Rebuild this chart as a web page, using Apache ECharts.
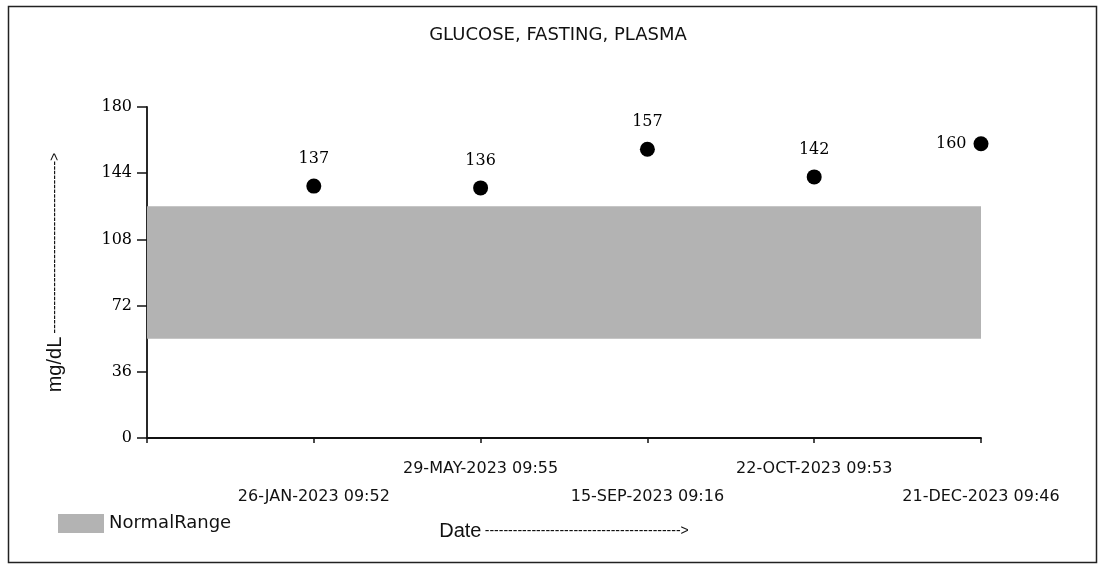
<!DOCTYPE html>
<html>
<head>
<meta charset="utf-8">
<script src="https://cdn.jsdelivr.net/npm/echarts@6/dist/echarts.min.js"></script>
<style>
html,body{margin:0;padding:0;background:#fff;}
#chart{width:1100px;height:569px;}
</style>
</head>
<body>
<div id="chart"></div>
<script>
// ---- data ----
var chartTitle = 'GLUCOSE, FASTING, PLASMA';
var dates = ['26-JAN-2023 09:52', '29-MAY-2023 09:55', '15-SEP-2023 09:16', '22-OCT-2023 09:53', '21-DEC-2023 09:46'];
var values = [137, 136, 157, 142, 160];
var normalRange = [54, 126];
var yTicks = [0, 36, 72, 108, 144, 180];
var legendName = 'NormalRange';
var xName = 'Date';
var yName = 'mg/dL';

// ---- build ----
var categories = [''].concat(dates);
var pointData = values.map(function (v, i) {
  var d = { value: [dates[i], v] };
  if (i === values.length - 1) {
    d.label = { position: 'left', distance: 7 };
  }
  return d;
});
var dashes = function (n) { return new Array(n + 1).join('-'); };

var chart = echarts.init(document.getElementById('chart'), null, { renderer: 'canvas' });
chart.setOption({
  animation: false,
  backgroundColor: '#ffffff',
  graphic: [
    { type: 'rect', shape: { x: 8.5, y: 6.5, width: 1088, height: 556 },
      style: { fill: 'none', stroke: '#222', lineWidth: 1.5 }, z: -1 },
    { type: 'text', x: 558, y: 35,
      style: { text: chartTitle, fill: '#111', font: '18px "DejaVu Sans"', align: 'center', verticalAlign: 'middle' } }
  ],
  legend: {
    data: [{ name: legendName, icon: 'rect' }],
    left: 53, top: 509,
    itemWidth: 46, itemHeight: 19, itemGap: 11,
    textStyle: { fontFamily: 'DejaVu Sans', fontSize: 18, color: '#111' }
  },
  grid: { left: 147, right: 119, top: 107, bottom: 131, containLabel: false },
  xAxis: {
    type: 'category',
    data: categories,
    boundaryGap: false,
    name: '{a|' + xName + '} {b|' + dashes(42) + '>}',
    nameLocation: 'middle',
    nameGap: 83,
    nameTextStyle: {
      rich: {
        a: { fontFamily: 'Liberation Sans', fontSize: 20, color: '#111' },
        b: { fontFamily: 'Liberation Sans', fontSize: 14, color: '#111' }
      }
    },
    axisLine: { lineStyle: { color: '#111', width: 1.8 } },
    axisTick: { show: true, length: 5, lineStyle: { color: '#111', width: 1.5 }, interval: 0 },
    axisLabel: {
      interval: 0,
      margin: 17,
      fontFamily: 'DejaVu Sans',
      fontSize: 16,
      color: '#111',
      lineHeight: 28,
      formatter: function (val, idx) {
        if (!val) return '';
        return (idx % 2 === 1) ? '\n' + val : val;
      }
    },
    splitLine: { show: false }
  },
  yAxis: {
    type: 'value',
    min: yTicks[0],
    max: yTicks[yTicks.length - 1],
    interval: yTicks[1] - yTicks[0],
    name: '{a|' + yName + '} {b|' + dashes(37) + '>}',
    nameLocation: 'middle',
    nameRotate: 90,
    nameGap: 82,
    nameTextStyle: {
      rich: {
        a: { fontFamily: 'Liberation Sans', fontSize: 20, color: '#111' },
        b: { fontFamily: 'Liberation Sans', fontSize: 14, color: '#111' }
      }
    },
    axisLine: { show: true, lineStyle: { color: '#111', width: 1.8 } },
    axisTick: { show: true, length: 10, lineStyle: { color: '#111', width: 1.5 } },
    axisLabel: { margin: 15, fontFamily: 'DejaVu Serif', fontSize: 16, color: '#000' },
    splitLine: { show: false }
  },
  series: [
    {
      name: legendName,
      type: 'line',
      data: [],
      color: '#b3b3b3',
      itemStyle: { color: '#b3b3b3' },
      markArea: {
        silent: true,
        itemStyle: { color: '#b3b3b3' },
        data: [[{ yAxis: normalRange[0] }, { yAxis: normalRange[1] }]]
      }
    },
    {
      name: 'Result',
      type: 'scatter',
      symbol: 'circle',
      symbolSize: 15,
      itemStyle: { color: '#000', opacity: 1 },
      label: {
        show: true,
        position: 'top',
        distance: 12,
        fontFamily: 'DejaVu Serif',
        fontSize: 16,
        color: '#000',
        formatter: function (p) { return p.value[1]; }
      },
      data: pointData,
      z: 5
    }
  ]
});
</script>
</body>
</html>
